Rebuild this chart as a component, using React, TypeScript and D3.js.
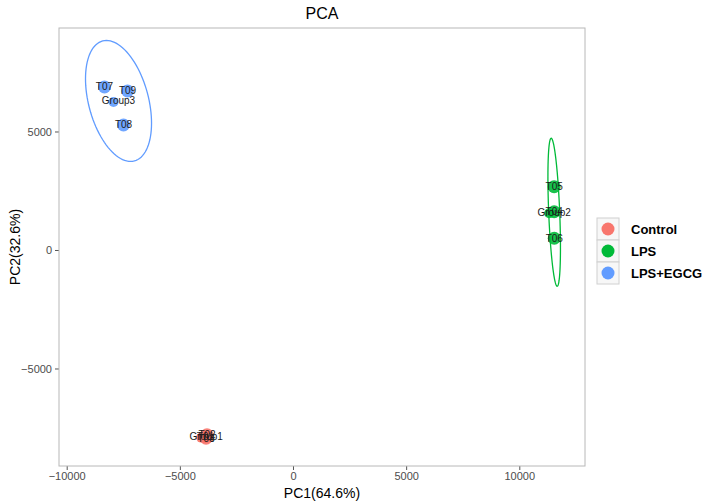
import React, { useEffect, useRef } from 'react';
import * as d3 from 'd3';

// samples
const sampleNames = ['T01', 'T02', 'T03', 'T04', 'T05', 'T06', 'T07', 'T08', 'T09'];
const sampleGroups = ['Control', 'Control', 'Control', 'LPS', 'LPS', 'LPS', 'LPS+EGCG', 'LPS+EGCG', 'LPS+EGCG'];
const pc1 = [-3870, -3800, -3840, 11540, 11540, 11545, -8330, -7490, -7310];
const pc2 = [-7880, -7800, -7940, 1615, 2670, 495, 6880, 5275, 6710];

const groups = ['Control', 'LPS', 'LPS+EGCG'];
const groupLabels = ['Group1', 'Group2', 'Group3'];
const groupColors = ['#F8766D', '#00BA38', '#619CFF'];
// ellipse semi-axis vectors in data units: [major, minor]
const ellipseAxes: [number, number][][] = [
  [[0, -220], [140, 0]],
  [[133, -3122], [243, 8]],
  [[700, -2532], [1280, 320]],
];

const xTicks = [-10000, -5000, 0, 5000, 10000];
const yTicks = [-5000, 0, 5000];
const xDomain = [-10340, 12903];
const yDomain = [-9114, 9367];

const App = () => {
  const svgRef = useRef<SVGSVGElement | null>(null);

  useEffect(() => {
    document.body.style.margin = '0';
    const root = d3.select(svgRef.current);
    root.selectAll('*').remove();

    const W = 709, H = 504;
    const margin = { top: 28, right: 124, bottom: 38, left: 59 };
    const width = W - margin.left - margin.right;
    const height = H - margin.top - margin.bottom;
    const font = 'Liberation Sans, Arial, sans-serif';

    root.attr('width', W).attr('height', H).style('font-family', font);
    root.append('rect').attr('width', W).attr('height', H).attr('fill', '#fff');

    const svg = root.append('g').attr('transform', `translate(${margin.left},${margin.top})`);

    const x = d3.scaleLinear().domain(xDomain).range([0, width]);
    const y = d3.scaleLinear().domain(yDomain).range([height, 0]);

    // title
    root.append('text')
      .attr('x', margin.left + width / 2)
      .attr('y', 13)
      .attr('text-anchor', 'middle')
      .attr('dominant-baseline', 'central')
      .style('font-size', '16px')
      .text('PCA');

    // axes
    const xAxis = svg.append('g')
      .attr('transform', `translate(0,${height})`)
      .call(d3.axisBottom(x).tickValues(xTicks).tickSize(4).tickPadding(2).tickFormat(d3.format('d')));
    const yAxis = svg.append('g')
      .call(d3.axisLeft(y).tickValues(yTicks).tickSize(4).tickPadding(3).tickFormat(d3.format('d')));
    [xAxis, yAxis].forEach(a => {
      a.select('.domain').remove();
      a.selectAll('line').attr('stroke', '#555');
      a.selectAll('text').attr('fill', '#4d4d4d').style('font-size', '11px').style('font-family', font);
    });

    svg.append('rect')
      .attr('width', width)
      .attr('height', height)
      .attr('fill', 'none')
      .attr('stroke', '#b8b8b8')
      .attr('stroke-width', 1);

    // axis titles
    svg.append('text')
      .attr('x', width / 2)
      .attr('y', height + 27)
      .attr('text-anchor', 'middle')
      .attr('dominant-baseline', 'central')
      .style('font-size', '14px')
      .text('PC1(64.6%)');
    svg.append('text')
      .attr('transform', 'rotate(-90)')
      .attr('x', -height / 2)
      .attr('y', -margin.left + 15)
      .attr('text-anchor', 'middle')
      .attr('dominant-baseline', 'central')
      .style('font-size', '14px')
      .text('PC2(32.6%)');

    // group centroids
    const centroids = groups.map(g => {
      const idx = sampleGroups.map((s, i) => (s === g ? i : -1)).filter(i => i >= 0);
      return [d3.mean(idx, i => pc1[i]) as number, d3.mean(idx, i => pc2[i]) as number];
    });

    // ellipses
    const line = d3.line<[number, number]>().x(d => x(d[0])).y(d => y(d[1])).curve(d3.curveLinearClosed);
    groups.forEach((g, gi) => {
      const [c1, c2] = centroids[gi];
      const [a, b] = ellipseAxes[gi];
      const pts: [number, number][] = d3.range(0, 100).map(k => {
        const t = (k / 100) * Math.PI * 2;
        return [c1 + Math.cos(t) * a[0] + Math.sin(t) * b[0], c2 + Math.cos(t) * a[1] + Math.sin(t) * b[1]];
      });
      svg.append('path')
        .attr('d', line(pts))
        .attr('fill', 'none')
        .attr('stroke', groupColors[gi])
        .attr('stroke-width', 1.3);
    });

    // points
    const color = (g: string) => groupColors[groups.indexOf(g)];
    svg.selectAll('circle.pt')
      .data(sampleNames)
      .enter()
      .append('circle')
      .attr('class', 'pt')
      .attr('cx', (_, i) => x(pc1[i]))
      .attr('cy', (_, i) => y(pc2[i]))
      .attr('r', 6.5)
      .attr('fill', (_, i) => color(sampleGroups[i]))
      .attr('opacity', 0.9);

    svg.selectAll('circle.cen')
      .data(centroids)
      .enter()
      .append('circle')
      .attr('class', 'cen')
      .attr('cx', d => x(d[0]) - 5)
      .attr('cy', d => y(d[1]) + 1)
      .attr('r', 5)
      .attr('fill', (_, i) => groupColors[i])
      .attr('opacity', 0.9);

    // labels
    svg.selectAll('text.lab')
      .data(sampleNames)
      .enter()
      .append('text')
      .attr('class', 'lab')
      .attr('x', (_, i) => x(pc1[i]))
      .attr('y', (_, i) => y(pc2[i]))
      .attr('text-anchor', 'middle')
      .attr('dominant-baseline', 'central')
      .style('font-size', '10px')
      .attr('fill', '#1a1a1a')
      .text(d => d);

    svg.selectAll('text.grp')
      .data(centroids)
      .enter()
      .append('text')
      .attr('class', 'grp')
      .attr('x', d => x(d[0]))
      .attr('y', d => y(d[1]))
      .attr('text-anchor', 'middle')
      .attr('dominant-baseline', 'central')
      .style('font-size', '10px')
      .attr('fill', '#1a1a1a')
      .text((_, i) => groupLabels[i]);

    // legend
    const legend = root.append('g').attr('transform', 'translate(597,218)');
    const key = 22;
    groups.forEach((g, i) => {
      const row = legend.append('g').attr('transform', `translate(0,${i * key})`);
      row.append('rect')
        .attr('width', key)
        .attr('height', key)
        .attr('fill', '#f7f7f7')
        .attr('stroke', '#d0d0d0');
      row.append('circle')
        .attr('cx', key / 2)
        .attr('cy', key / 2)
        .attr('r', 6.5)
        .attr('fill', groupColors[i]);
      row.append('text')
        .attr('x', key + 12)
        .attr('y', key / 2)
        .attr('dominant-baseline', 'central')
        .style('font-size', '13px')
        .style('font-weight', 'bold')
        .text(g);
    });
  }, []);

  return (
    <div>
      <svg ref={svgRef}></svg>
    </div>
  );
};

export default App;
